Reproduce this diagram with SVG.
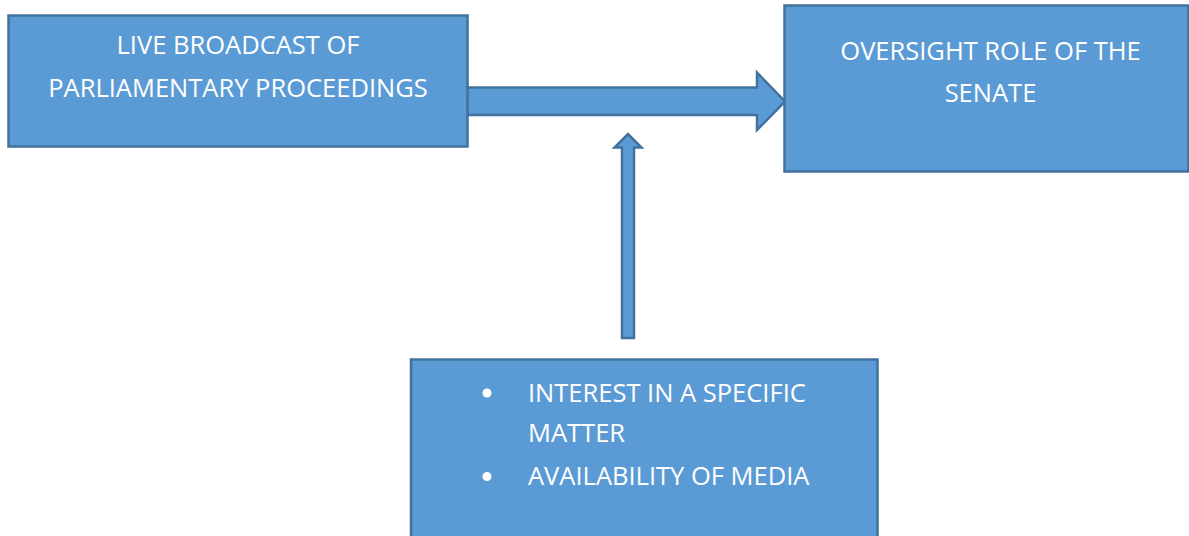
<svg xmlns="http://www.w3.org/2000/svg" width="1189" height="536" viewBox="0 0 1189 536">
  <style>
    .box { fill: #5B9BD5; stroke: #41719C; stroke-width: 2.5; }
    .arrow { fill: #5B9BD5; stroke: #41719C; stroke-width: 2.5; stroke-linejoin: miter; }
    .label { font-family: "Open Sans", "Liberation Sans", sans-serif; font-size: 25.5px; fill: #FFFFFF; }
  </style>
  <rect width="1189" height="536" fill="#FFFFFF"/>

  <g id="connectors">
    <!-- broadcast to oversight -->
    <path class="arrow" d="M467,87.5 H757 V72.5 L785,101.5 L757,130 V115 H467 Z"/>
    <!-- factors pushing up into the main flow -->
    <path class="arrow" d="M622,338 V147.5 H614.5 L628,134 L641.5,147.5 H634 V338 Z"/>
  </g>

  <g id="node-broadcast">
    <rect class="box" x="8.5" y="15.5" width="459" height="131"/>
    <text class="label" text-anchor="middle" x="238" y="54">LIVE BROADCAST OF</text>
    <text class="label" text-anchor="middle" x="238" y="96.5">PARLIAMENTARY PROCEEDINGS</text>
  </g>

  <g id="node-oversight">
    <rect class="box" x="784.5" y="5.5" width="404" height="166"/>
    <text class="label" text-anchor="middle" x="990.5" y="60">OVERSIGHT ROLE OF THE</text>
    <text class="label" text-anchor="middle" x="990.5" y="101.5">SENATE</text>
  </g>

  <g id="node-factors">
    <rect class="box" x="411" y="359.5" width="466.5" height="190"/>
    <circle cx="487" cy="393" r="4.5" fill="#FFFFFF"/>
    <circle cx="487" cy="476.5" r="4.5" fill="#FFFFFF"/>
    <text class="label" x="528" y="401.5">INTEREST IN A SPECIFIC</text>
    <text class="label" x="528" y="441.5">MATTER</text>
    <text class="label" x="528" y="485">AVAILABILITY OF MEDIA</text>
  </g>
</svg>
